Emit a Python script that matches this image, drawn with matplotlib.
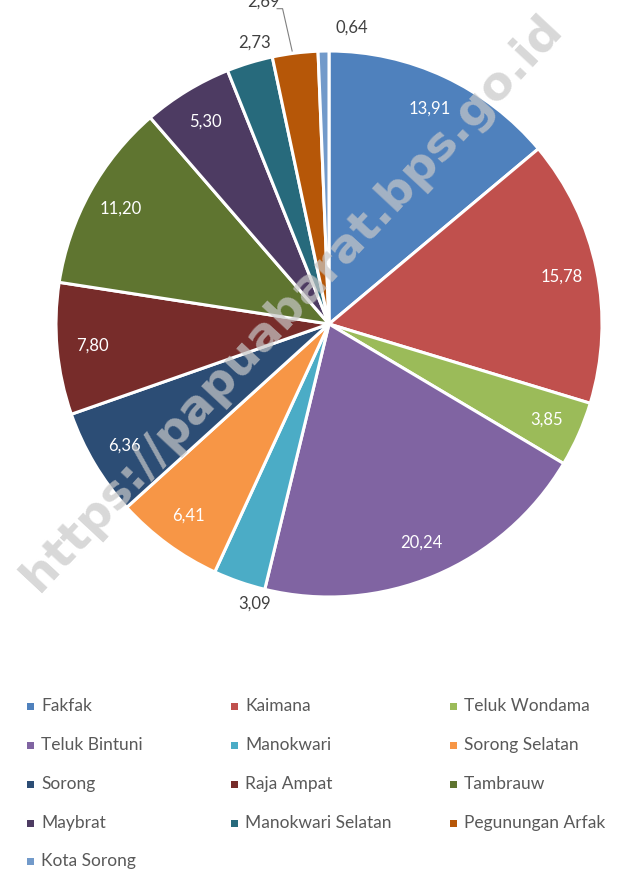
import matplotlib
matplotlib.use("Agg")
import matplotlib.pyplot as plt
import numpy as np

categories = ["Fakfak", "Kaimana", "Teluk Wondama", "Teluk Bintuni", "Manokwari",
              "Sorong Selatan", "Sorong", "Raja Ampat", "Tambrauw", "Maybrat",
              "Manokwari Selatan", "Pegunungan Arfak", "Kota Sorong"]
values = [13.91, 15.78, 3.85, 20.24, 3.09, 6.41, 6.36, 7.80, 11.20, 5.30, 2.73, 2.69, 0.64]
labels = ["13,91", "15,78", "3,85", "20,24", "3,09", "6,41", "6,36", "7,80",
          "11,20", "5,30", "2,73", "2,69", "0,64"]
colors = ["#4F81BD", "#C0504D", "#9BBB59", "#8064A2", "#4BACC6", "#F79646",
          "#2C4D75", "#772C2A", "#5F7530", "#4D3B62", "#276A7C", "#B65708", "#729ACA"]

plt.rcParams['font.family'] = ['Lato', 'DejaVu Sans']

W, H = 640, 872
fig = plt.figure(figsize=(W / 100, H / 100), dpi=100)
fig.patch.set_facecolor("white")

cx, cy, R = 329, 324, 273
ax = fig.add_axes([(cx - R) / W, (H - cy - R) / H, 2 * R / W, 2 * R / H])

wedges, _ = ax.pie(values, colors=colors, startangle=90, counterclock=False,
                   radius=1.0, wedgeprops=dict(edgecolor="white", linewidth=2.2))
ax.set_xlim(-1, 1)
ax.set_ylim(-1, 1)
ax.set_aspect("equal")
ax.axis("off")

outside = {4: (-0.272, -1.025), 10: (-0.272, 1.03), 11: (-0.24, 1.18), 12: (0.085, 1.085)}
for i, (w, lab) in enumerate(zip(wedges, labels)):
    if i in outside:
        x, y = outside[i]
        ax.text(x, y, lab, ha="center", va="center", fontsize=12, color="#404040",
                clip_on=False)
    else:
        mid = np.deg2rad((w.theta1 + w.theta2) / 2)
        d = 0.87
        ax.text(d * np.cos(mid), d * np.sin(mid), lab, ha="center", va="center",
                fontsize=12, color="white")

# leader line for Pegunungan Arfak
ax.plot([-0.19, -0.17, -0.135], [1.155, 1.155, 1.0], color="#808080", lw=0.8,
        clip_on=False)

# legend
row_y = [706, 745, 784, 823, 861]
col_text_x = [41, 245, 464]
for i, (name, c) in enumerate(zip(categories, colors)):
    r, k = divmod(i, 3)
    y = 1 - row_y[r] / H
    tx = col_text_x[k] / W
    fig.patches.append(plt.Rectangle(((col_text_x[k] - 14) / W, y - 3.5 / H), 7 / W, 7 / H,
                                     transform=fig.transFigure, facecolor=c,
                                     edgecolor="none"))
    fig.text(tx, y, name, ha="left", va="center", fontsize=12.5, color="#595959")

# watermark
fig.text(0.456, 0.652, "https://papuabarat.bps.go.id", rotation=47, ha="center",
         va="center", fontsize=34, fontweight="bold", color="#c8c8c8", alpha=0.7,
         family=["DejaVu Sans"], zorder=10)

fig.savefig("out.png", dpi=100, facecolor="white")
